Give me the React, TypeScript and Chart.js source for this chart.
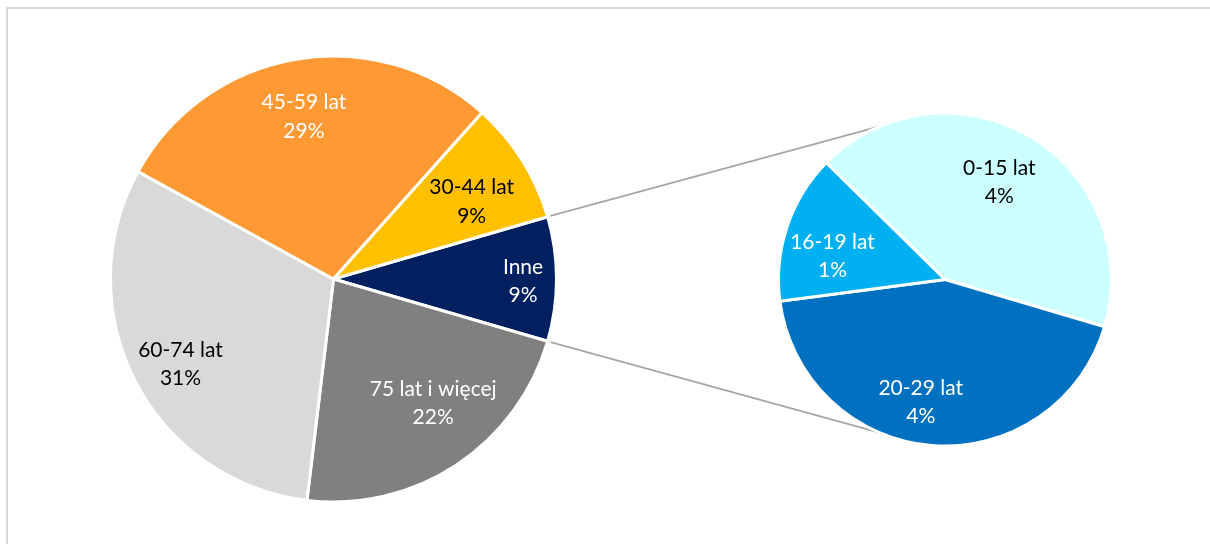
import React, { useEffect, useRef } from "react";
import { Chart, registerables } from "chart.js";

Chart.register(...registerables);

// ---- data ----
const mainLabels = ["Inne", "75 lat i więcej", "60-74 lat", "45-59 lat", "30-44 lat"];
const mainValues = [9.0, 22.4, 31.1, 28.6, 8.9];
const mainColors = ["#002060", "#808080", "#D9D9D9", "#FF9933", "#FFC000"];
const mainTextColors = ["#FFFFFF", "#FFFFFF", "#000000", "#FFFFFF", "#000000"];

const subLabels = ["0-15 lat", "20-29 lat", "16-19 lat"];
const subValues = [3.8, 3.9, 1.3];
const subColors = ["#CCFFFF", "#0070C0", "#00B0F0"];
const subTextColors = ["#000000", "#FFFFFF", "#FFFFFF"];

// ---- label placement (fraction of radius, angular shift in degrees) ----
const mainLabelRadius = [0.85, 0.715, 0.785, 0.74, 0.71];
const mainLabelShift = [0.6, -5.2, -1.9, -0.6, 3];
const subLabelRadius = [0.67, 0.75, 0.69];
const subLabelShift = [-1.4, 6.7, -6.8];

// ---- layout / style ----
const W = 1210;
const H = 544;
const FONT = "Lato, 'Open Sans', sans-serif";
const FONT_SIZE = 21;
const LINE = 28.5;
const BW = 3;
const MAIN = { cx: 333.5, cy: 279, r: 221.5 };
const SUB = { cx: 945, cy: 279.5, r: 165 };

function padFor(p: { cx: number; cy: number; r: number }) {
  const half = p.r + BW / 2 + BW / 2;
  return {
    left: p.cx - half,
    right: W - (p.cx + half),
    top: p.cy - half,
    bottom: H - (p.cy + half),
  };
}

function labelPlugin(texts: string[], colors: string[], radii: number[], shifts: number[]) {
  return {
    id: "sliceLabels",
    afterDatasetsDraw(chart: any) {
      const ctx = chart.ctx;
      const meta = chart.getDatasetMeta(0);
      const values = chart.data.datasets[0].data as number[];
      ctx.save();
      ctx.font = `${FONT_SIZE}px ${FONT}`;
      ctx.textAlign = "center";
      ctx.textBaseline = "middle";
      meta.data.forEach((arc: any, i: number) => {
        const { x, y, startAngle, endAngle, outerRadius } = arc.getProps(
          ["x", "y", "startAngle", "endAngle", "outerRadius"],
          true
        );
        const a = (startAngle + endAngle) / 2 + (shifts[i] * Math.PI) / 180;
        const r = outerRadius * radii[i];
        const lx = x + r * Math.cos(a);
        const ly = y + r * Math.sin(a);
        ctx.fillStyle = colors[i];
        ctx.fillText(texts[i], lx, ly - LINE / 2);
        ctx.fillText(Math.round(values[i]) + "%", lx, ly + LINE / 2);
      });
      ctx.restore();
    },
  };
}

export default function App() {
  const mainRef = useRef<HTMLCanvasElement | null>(null);
  const subRef = useRef<HTMLCanvasElement | null>(null);

  useEffect(() => {
    if (!mainRef.current || !subRef.current) return;
    const innePct = mainValues[0] / mainValues.reduce((a, b) => a + b, 0);
    const mainChart = new Chart(mainRef.current, {
      type: "pie",
      data: {
        labels: mainLabels,
        datasets: [
          {
            data: mainValues,
            backgroundColor: mainColors,
            borderColor: "#FFFFFF",
            borderWidth: BW,
            hoverOffset: 0,
          },
        ],
      },
      options: {
        responsive: false,
        animation: false,
        rotation: 90 - (innePct * 360) / 2,
        layout: { padding: padFor(MAIN) },
        plugins: { legend: { display: false }, tooltip: { enabled: false } },
        events: [],
      },
      plugins: [labelPlugin(mainLabels, mainTextColors, mainLabelRadius, mainLabelShift)],
    });

    const connector = {
      id: "connector",
      beforeDatasetsDraw(chart: any) {
        const mMeta = mainChart.getDatasetMeta(0);
        const inne: any = mMeta.data[0];
        const sMeta = chart.getDatasetMeta(0);
        const sArc: any = sMeta.data[0];
        if (!inne || !sArc) return;
        const m = inne.getProps(["x", "y", "startAngle", "endAngle", "outerRadius"], true);
        const s = sArc.getProps(["x", "y", "outerRadius"], true);
        const R = m.outerRadius + 3;
        const sr = s.outerRadius - BW / 2;
        const ctx = chart.ctx;
        ctx.save();
        ctx.strokeStyle = "#A6A6A6";
        ctx.lineWidth = 1.75;
        const ends: [number, number][] = [
          [m.startAngle, 1],
          [m.endAngle, -1],
        ];
        ends.forEach(([ang, sign]) => {
          const px = m.x + R * Math.cos(ang);
          const py = m.y + R * Math.sin(ang);
          const dx = px - s.x;
          const dy = py - s.y;
          const d = Math.hypot(dx, dy);
          const th = Math.atan2(dy, dx);
          const al = Math.acos(sr / d);
          const t = th + sign * al;
          ctx.beginPath();
          ctx.moveTo(px, py);
          ctx.lineTo(s.x + sr * Math.cos(t), s.y + sr * Math.sin(t));
          ctx.stroke();
        });
        ctx.restore();
      },
    };

    const subChart = new Chart(subRef.current, {
      type: "pie",
      data: {
        labels: subLabels,
        datasets: [
          {
            data: subValues,
            backgroundColor: subColors,
            borderColor: "#FFFFFF",
            borderWidth: BW,
            hoverOffset: 0,
          },
        ],
      },
      options: {
        responsive: false,
        animation: false,
        rotation: -45.5,
        layout: { padding: padFor(SUB) },
        plugins: { legend: { display: false }, tooltip: { enabled: false } },
        events: [],
      },
      plugins: [connector, labelPlugin(subLabels, subTextColors, subLabelRadius, subLabelShift)],
    });

    return () => {
      subChart.destroy();
      mainChart.destroy();
    };
  }, []);

  return (
    <div
      style={{
        position: "fixed",
        left: 0,
        top: 0,
        width: W,
        height: H,
        overflow: "hidden",
        background: "#FFFFFF",
      }}
    >
      <div
        style={{
          position: "absolute",
          left: 6,
          top: 7,
          width: 1400,
          height: 800,
          border: "2px solid #D9D9D9",
        }}
      />
      <canvas ref={mainRef} width={W} height={H} style={{ position: "absolute", left: 0, top: 0 }} />
      <canvas ref={subRef} width={W} height={H} style={{ position: "absolute", left: 0, top: 0 }} />
    </div>
  );
}
